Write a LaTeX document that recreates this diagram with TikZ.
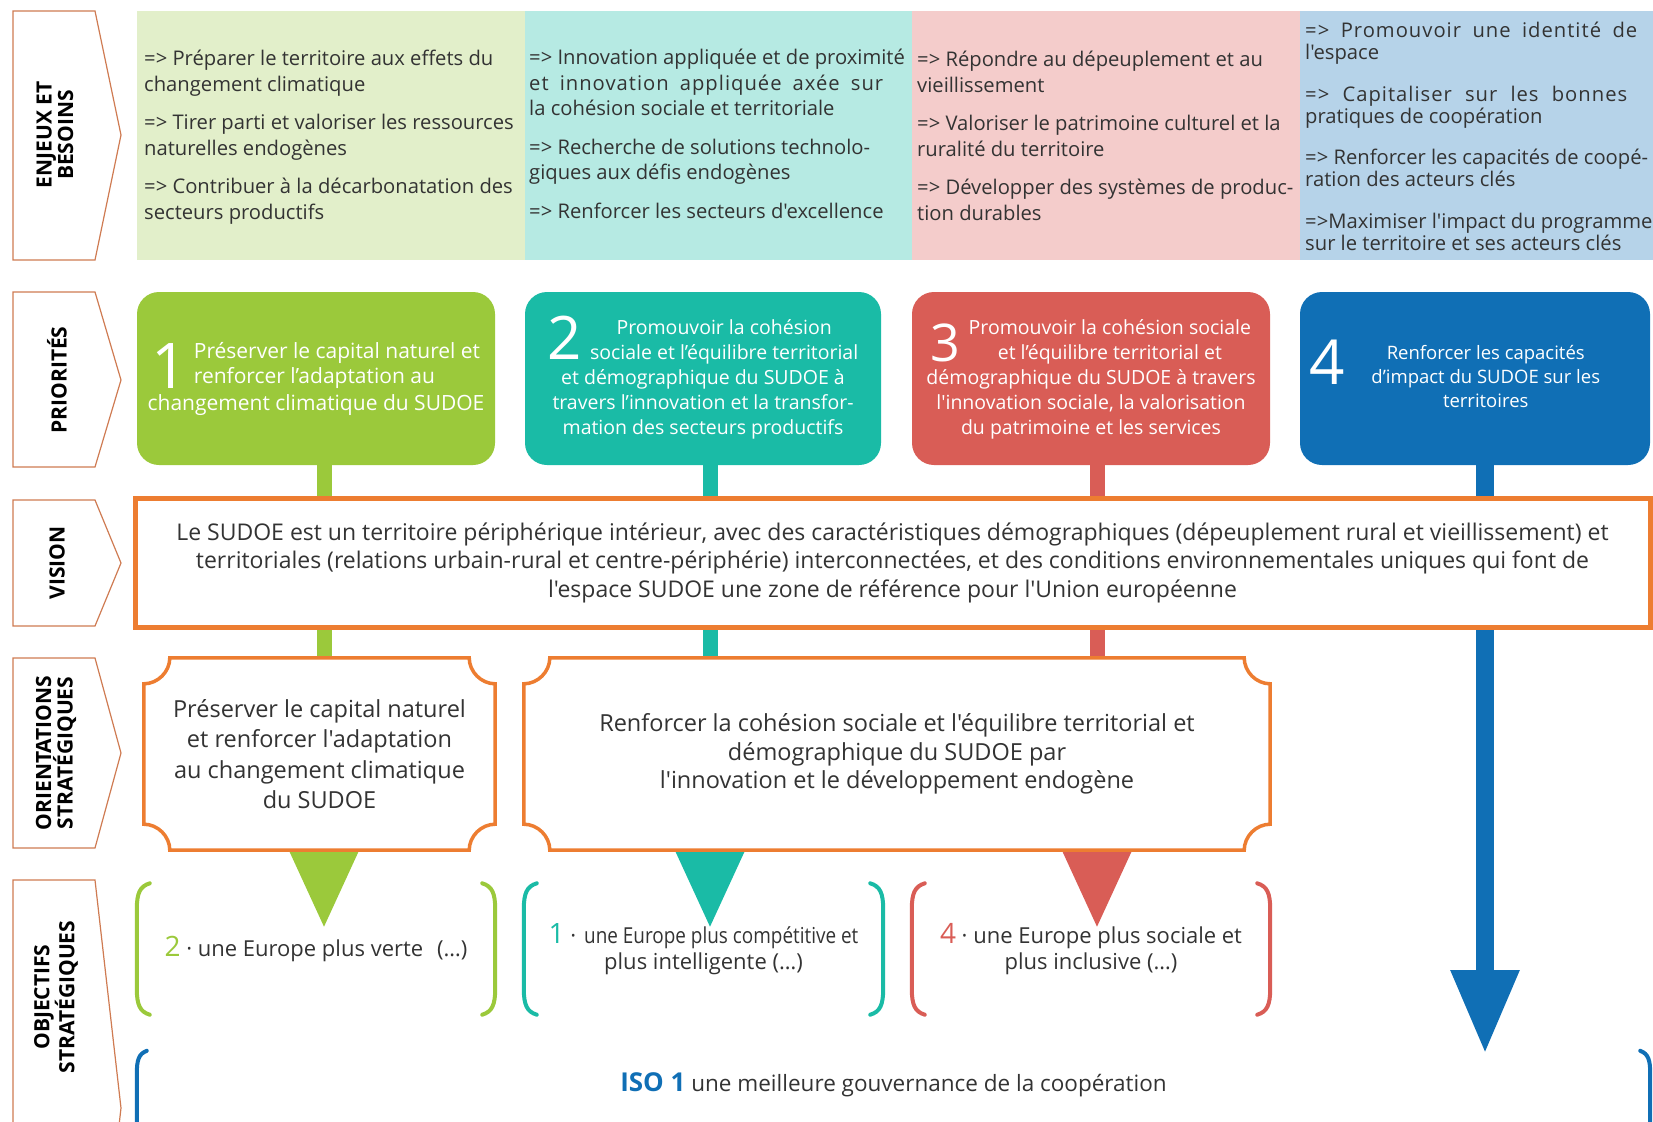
\documentclass[tikz,border=0pt]{standalone}
\usepackage{fontspec}
\setmainfont{Open Sans}[Ligatures=TeXOff]
\newfontfamily\condfont{Open Sans}[FakeStretch=0.86,Ligatures=TeXOff]
\usetikzlibrary{arrows.meta}
\pgfdeclarelayer{back}
\pgfdeclarelayer{mid}
\pgfsetlayers{back,mid,main}

\definecolor{bandgreen}{HTML}{E2EFCA}
\definecolor{bandteal}{HTML}{B6EAE3}
\definecolor{bandpink}{HTML}{F4CCCB}
\definecolor{bandblue}{HTML}{B6D3E9}
\definecolor{sgreen}{HTML}{9BC93B}
\definecolor{steal}{HTML}{1ABBA6}
\definecolor{sred}{HTML}{D95D56}
\definecolor{sblue}{HTML}{106FB5}
\definecolor{sorange}{HTML}{ED7D31}
\definecolor{tagline}{HTML}{CF7B52}
\definecolor{darktext}{HTML}{333333}

\newcommand\bignum[3]{\raisebox{#3}[0pt][0pt]{\fontsize{#2}{#2}\selectfont #1}}
\newcommand\spaced[2]{\makebox[#1][s]{\addfontfeature{LetterSpace=5}#2}}
\newcommand\tagshape[3]{\draw[tagbox] (13,#1) -- (95,#1) -- (121,#2) -- (95,#3) -- (13,#3) -- cycle;}
\newcommand\scallopframe[1]{%
  \path[scallop] ([xshift=26pt]#1.north west) -- ([xshift=-26pt]#1.north east)
    .. controls ([xshift=-26pt,yshift=-14pt]#1.north east) and ([xshift=-14pt,yshift=-26pt]#1.north east) .. ([yshift=-26pt]#1.north east)
    -- ([yshift=26pt]#1.south east)
    .. controls ([xshift=-14pt,yshift=26pt]#1.south east) and ([xshift=-26pt,yshift=14pt]#1.south east) .. ([xshift=-26pt]#1.south east)
    -- ([xshift=26pt]#1.south west)
    .. controls ([xshift=26pt,yshift=14pt]#1.south west) and ([xshift=14pt,yshift=26pt]#1.south west) .. ([yshift=26pt]#1.south west)
    -- ([yshift=-26pt]#1.north west)
    .. controls ([xshift=14pt,yshift=-26pt]#1.north west) and ([xshift=26pt,yshift=-14pt]#1.north west) .. ([xshift=26pt]#1.north west) -- cycle;}
\newcommand\bracketpair[2]{%
  \draw[brack, #2] ([xshift=13pt]#1.north west) .. controls ([xshift=3pt,yshift=-3pt]#1.north west) and ([yshift=-10pt]#1.north west) .. ([yshift=-26pt]#1.north west)
    -- ([yshift=26pt]#1.south west) .. controls ([yshift=10pt]#1.south west) and ([xshift=3pt,yshift=3pt]#1.south west) .. ([xshift=13pt]#1.south west);
  \draw[brack, #2] ([xshift=-13pt]#1.north east) .. controls ([xshift=-3pt,yshift=-3pt]#1.north east) and ([yshift=-10pt]#1.north east) .. ([yshift=-26pt]#1.north east)
    -- ([yshift=26pt]#1.south east) .. controls ([yshift=10pt]#1.south east) and ([xshift=-3pt,yshift=3pt]#1.south east) .. ([xshift=-13pt]#1.south east);}

\tikzset{
  tagbox/.style={draw=tagline, line width=1.2pt, fill=white},
  tagtext/.style={rotate=90, align=center, inner sep=0pt, font=\bfseries\fontsize{21}{21.5}\selectfont},
  needs/.style={anchor=north west, align=left, inner sep=0pt, text=darktext, font=\fontsize{20.2}{25.5}\selectfont},
  prio/.style={rounded corners=22pt, minimum width=358pt, minimum height=173pt, inner sep=0pt, text=white, align=center, font=\fontsize{20}{25}\selectfont},
  stem/.style={line width=15pt, -{Triangle[width=66pt,length=78pt]}},
  orient/.style={minimum height=192pt, inner sep=0pt, align=center, text=darktext},
  scallop/.style={draw=sorange, line width=3.5pt, fill=white},
  obj/.style={minimum width=358pt, minimum height=131pt, inner sep=0pt, align=center, text=darktext, font=\fontsize{22}{26}\selectfont},
  brack/.style={line width=4pt, line cap=round},
}

\begin{document}
\begin{tikzpicture}[x=1pt, y=-1pt]
\useasboundingbox (0,0) rectangle (1653,1121);

% row labels
\tagshape{11}{135}{260}
\tagshape{292}{380}{467}
\tagshape{500}{563}{626}
\tagshape{658}{753}{848}
\tagshape{880}{1108}{1336}
\node[tagtext] (lab1) at (55,135) {ENJEUX ET\\BESOINS};
\node[tagtext] (lab2) at (57,380) {PRIORITÉS};
\node[tagtext] (lab3) at (57,563) {VISION};
\node[tagtext] (lab4) at (56,753) {ORIENTATIONS\\STRATÉGIQUES};
\node[tagtext] (lab5) at (56,997) {OBJECTIFS\\STRATÉGIQUES};

% enjeux et besoins
\fill[bandgreen] (137,11) rectangle (525,260);
\fill[bandteal] (525,11) rectangle (912,260);
\fill[bandpink] (912,11) rectangle (1300,260);
\fill[bandblue] (1300,11) rectangle (1653,260);
\node[needs] (need1) at (144,50) {=> Préparer le territoire aux effets du\\changement climatique\\[13pt]
  => Tirer parti et valoriser les ressources\\naturelles endogènes\\[13pt]
  => Contribuer à la décarbonatation des\\secteurs productifs};
\node[needs] (need2) at (529,49) {=> Innovation appliquée et de proximité\\\spaced{354pt}{et innovation appliquée axée sur}\\la cohésion sociale et territoriale\\[13pt]
  => Recherche de solutions technolo-\\giques aux défis endogènes\\[13pt]
  => Renforcer les secteurs d'excellence};
\node[needs] (need3) at (917,51) {=> Répondre au dépeuplement et au\\vieillissement\\[13pt]
  => Valoriser le patrimoine culturel et la\\ruralité du territoire\\[13pt]
  => Développer des systèmes de produc-\\tion durables};
\node[needs, font=\fontsize{20.2}{22}\selectfont] (need4) at (1305,22) {\spaced{332pt}{=> Promouvoir une identité de}\\l'espace\\[19.5pt]
  \spaced{322pt}{=> Capitaliser sur les bonnes}\\pratiques de coopération\\[19.5pt]
  => Renforcer les capacités de coopé-\\ration des acteurs clés\\[19.5pt]
  =>Maximiser l'impact du programme\\sur le territoire et ses acteurs clés};

% priorites
\node[prio, fill=sgreen, font=\fontsize{21}{25}\selectfont] (prio1) at (316,378.5) {\bignum{1}{63}{-5pt}\hspace{6pt}\begin{tabular}[b]{@{}l@{}}Préserver le capital naturel et\\renforcer l’adaptation au\end{tabular}\\[2pt]changement climatique du SUDOE};
\node[prio, fill=steal, minimum width=356pt, font=\fontsize{19.5}{25}\selectfont] (prio2) at (703,378.5) {\bignum{2}{60}{0pt}\hspace{8pt}\begin{tabular}[b]{@{}c@{}}Promouvoir la cohésion\\sociale et l’équilibre territorial\end{tabular}\\et démographique du SUDOE à\\travers l’innovation et la transfor-\\mation des secteurs productifs};
\node[prio, fill=sred, font=\fontsize{19.5}{25}\selectfont] (prio3) at (1091,378.5) {\bignum{3}{52}{-2pt}\hspace{8pt}\begin{tabular}[b]{@{}c@{}}Promouvoir la cohésion sociale\\et l’équilibre territorial et\end{tabular}\\démographique du SUDOE à travers\\l'innovation sociale, la valorisation\\du patrimoine et les services};
\node[prio, fill=sblue, minimum width=350pt, font=\fontsize{18.5}{24}\selectfont] (prio4) at (1475,378.5) {\bignum{4}{62}{-2pt}\hspace{26pt}\begin{tabular}[c]{@{}c@{}}Renforcer les capacités\\d’impact du SUDOE sur les\\territoires\end{tabular}\hspace*{40pt}};

% vision
\node[draw=sorange, line width=5pt, fill=white, minimum width=1515pt, minimum height=129pt, inner sep=0pt, align=center, text=darktext, font=\fontsize{23}{28.5}\selectfont] (vision) at (892.5,562.5)
  {Le SUDOE est un territoire périphérique intérieur, avec des caractéristiques démographiques (dépeuplement rural et vieillissement) et\\
   territoriales (relations urbain-rural et centre-périphérie) interconnectées, et des conditions environnementales uniques qui font de\\
   l'espace SUDOE une zone de référence pour l'Union européenne};

% orientations strategiques
\node[orient, minimum width=351pt, font=\fontsize{23.5}{30.5}\selectfont] (orient1) at (319.5,754) {Préserver le capital naturel\\et renforcer l'adaptation\\au changement climatique\\du SUDOE};
\node[orient, minimum width=746pt, font=\fontsize{23.5}{28.5}\selectfont] (orient2) at (897,754) {Renforcer la cohésion sociale et l'équilibre territorial et\\démographique du SUDOE par\\l'innovation et le développement endogène};

% objectifs strategiques
\node[obj] (obj1) at (316,949) {{\color{sgreen}\fontsize{28}{28}\selectfont 2} · une Europe plus verte\hspace{14pt}(…)};
\node[obj, minimum width=359pt] (obj2) at (703.5,949) {{\color{steal}\fontsize{28}{28}\selectfont 1} ·\hspace{8pt}{\condfont une Europe plus compétitive et}\\plus intelligente (…)};
\node[obj] (obj3) at (1091,949) {{\color{sred}\fontsize{28}{28}\selectfont 4} · une Europe plus sociale et\\plus inclusive (…)};
\node[obj, minimum width=1513pt, minimum height=70pt, font=\fontsize{22.5}{26}\selectfont] (iso) at (893.5,1085) {{\color{sblue}\bfseries\fontsize{26}{26}\selectfont ISO 1} une meilleure gouvernance de la coopération};

\begin{pgfonlayer}{mid}
  \scallopframe{orient1}
  \scallopframe{orient2}
  \bracketpair{obj1}{sgreen}
  \bracketpair{obj2}{steal}
  \bracketpair{obj3}{sred}
  \draw[brack, sblue] ([xshift=10pt,yshift=-1pt]iso.north west) .. controls ([xshift=2pt,yshift=-4pt]iso.north west) and ([yshift=-10pt]iso.north west) .. ([yshift=-24pt]iso.north west) -- ([yshift=-60pt]iso.south west);
  \draw[brack, sblue] ([xshift=-10pt,yshift=-1pt]iso.north east) .. controls ([xshift=-2pt,yshift=-4pt]iso.north east) and ([yshift=-10pt]iso.north east) .. ([yshift=-24pt]iso.north east) -- ([yshift=-60pt]iso.south east);
\end{pgfonlayer}

% tiges et fleches
\coordinate (tip1) at (324,928);
\coordinate (tip2) at (710,928);
\coordinate (tip3) at (1097,928);
\coordinate (tip4) at (1485,1054);
\begin{pgfonlayer}{back}
  \draw[stem, sgreen] (prio1.south -| tip1) -- (tip1);
  \draw[stem, steal] (prio2.south -| tip2) -- (tip2);
  \draw[stem, sred] (prio3.south -| tip3) -- (tip3);
  \draw[stem, sblue, line width=18pt, -{Triangle[width=64pt,length=84pt]}] (prio4.south -| tip4) -- (tip4);
\end{pgfonlayer}
\end{tikzpicture}
\end{document}
